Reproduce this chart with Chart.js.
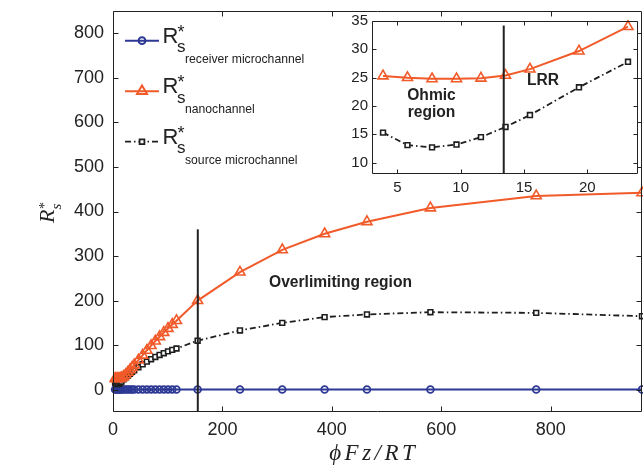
<!DOCTYPE html>
<html><head><meta charset="utf-8">
<script src="https://cdn.jsdelivr.net/npm/chart.js@4.4.1/dist/chart.umd.min.js"></script>
<style>
html,body{margin:0;padding:0;background:#fff;}
#wrap{position:relative;width:643px;height:465px;overflow:hidden;}
#main{position:absolute;left:0;top:0;}
#inset{position:absolute;left:320px;top:0;}
</style></head><body>
<div id="wrap"><canvas id="main" width="643" height="465"></canvas><canvas id="inset" width="323" height="210"></canvas></div>
<script>
// ---- data ----
const xValues = [3.87, 5.80, 7.74, 9.67, 11.60, 13.54, 15.47, 19.34, 23.21, 27.08, 30.94, 34.81, 38.68, 46.42, 54.15, 61.89, 69.62, 77.36, 85.10, 92.83, 100.57, 108.30, 116.04, 154.7, 232.1, 309.4, 386.8, 464.2, 580.2, 773.6, 967.0];
const receiver = [0.6, 0.6, 0.6, 0.6, 0.6, 0.6, 0.6, 0.6, 0.6, 0.6, 0.6, 0.6, 0.6, 0.6, 0.6, 0.6, 0.6, 0.6, 0.6, 0.6, 0.6, 0.6, 0.6, 0.6, 0.6, 0.6, 0.6, 0.6, 0.6, 0.6, 0.6];
const nanochannel = [25.3, 25.0, 24.8, 24.8, 24.9, 25.4, 26.5, 29.7, 34.0, 39.0, 44.5, 50.0, 55.5, 66.5, 77.5, 88.5, 99.0, 109.0, 119.0, 128.5, 137.5, 146.5, 155.0, 200.0, 264.0, 314.0, 350.0, 377.0, 408.0, 435.0, 442.0];
const source = [15.3, 13.1, 12.7, 13.2, 14.5, 16.3, 18.4, 23.3, 27.8, 32.0, 36.0, 40.0, 43.5, 50.5, 57.0, 63.0, 68.5, 73.5, 78.0, 82.0, 86.0, 89.5, 92.5, 110.0, 133.0, 150.0, 163.0, 169.0, 174.0, 172.5, 165.0];
const insetCount = 9; // points shown in the inset (x up to ~23)
const seriesLabels = ['receiver microchannel', 'nanochannel', 'source microchannel'];
const mainXTicks = [0, 200, 400, 600, 800];
const mainYTicks = [0, 100, 200, 300, 400, 500, 600, 700, 800];
const insetXTicks = [5, 10, 15, 20];
const insetYTicks = [10, 15, 20, 25, 30, 35];
const mainDividerX = [155, 155];
const mainDividerY = [-50, 360];
const insetDividerX = [13.4, 13.4];
const insetDividerY = [8, 34.2];

// ---- styles ----
const FONT = "'Liberation Sans', Arial, Helvetica, sans-serif";
const SERIF = "'Liberation Serif', 'DejaVu Serif', serif";
const INK = '#222222';
const BLUE = '#2D3994', RED = '#F15A29', BLACK = '#1E1E1E';
const DASHDOT = [6, 3, 1.5, 3];

const pts = (xs, ys) => ys.map((v, i) => ({x: xs[i], y: v}));

function axisFrame(len) {
  return {id: 'axisFrame', afterDatasetsDraw(chart) {
    const {ctx, chartArea: a, scales} = chart; const x = scales.x, y = scales.y;
    ctx.save(); ctx.strokeStyle = INK; ctx.lineWidth = 1; ctx.setLineDash([]);
    const L = Math.round(a.left) + 0.5, R = Math.round(a.right) - 0.5, T = Math.round(a.top) + 0.5, B = Math.round(a.bottom) - 0.5;
    ctx.beginPath(); ctx.rect(L, T, R - L, B - T);
    x.ticks.forEach(t => { const p = Math.round(x.getPixelForValue(t.value)) + 0.5; ctx.moveTo(p, B); ctx.lineTo(p, B - len); ctx.moveTo(p, T); ctx.lineTo(p, T + len); });
    y.ticks.forEach(t => { const p = Math.round(y.getPixelForValue(t.value)) + 0.5; ctx.moveTo(L, p); ctx.lineTo(L + len, p); ctx.moveTo(R, p); ctx.lineTo(R - len, p); });
    ctx.stroke(); ctx.restore();
  }};
}

function seriesStyles() {
  return [
    {borderColor: BLUE, borderWidth: 2, pointStyle: 'circle', pointRadius: 3.4, pointBorderWidth: 1.8, pointBackgroundColor: 'rgba(255,255,255,0)', pointBorderColor: BLUE, borderDash: []},
    {borderColor: RED, borderWidth: 2, pointStyle: 'triangle', pointRadius: 5.8, pointBorderWidth: 1.6, pointBackgroundColor: 'rgba(255,255,255,0)', pointBorderColor: RED, borderDash: []},
    {borderColor: BLACK, borderWidth: 1.8, pointStyle: 'rect', pointRadius: 3.4, pointBorderWidth: 1.6, pointBackgroundColor: '#ffffff', pointBorderColor: BLACK, borderDash: DASHDOT}
  ];
}
const styles = seriesStyles();

const mainDecor = {id: 'mainDecor', afterDraw(chart) {
  const ctx = chart.ctx;
  ctx.save();
  // legend
  const rows = [40.7, 91.2, 141.7];
  rows.forEach((ly, i) => {
    const s = styles[i];
    ctx.strokeStyle = s.borderColor; ctx.lineWidth = s.borderWidth; ctx.setLineDash(s.borderDash);
    ctx.beginPath(); ctx.moveTo(125, ly); ctx.lineTo(159, ly); ctx.stroke();
    ctx.setLineDash([]);
    ctx.fillStyle = s.pointBackgroundColor; ctx.strokeStyle = s.pointBorderColor;
    Chart.helpers.drawPoint(ctx, {pointStyle: s.pointStyle, radius: s.pointRadius, borderWidth: s.pointBorderWidth, rotation: 0}, 142, ly);
    ctx.fillStyle = INK; ctx.textAlign = 'left'; ctx.textBaseline = 'alphabetic';
    ctx.font = '22px ' + FONT; ctx.fillText('R', 162.5, ly + 2);
    ctx.font = '18px ' + FONT; ctx.fillText('*', 177.5, ly - 3);
    ctx.font = '17px ' + FONT; ctx.fillText('s', 177, ly + 11.5);
    ctx.font = '12.2px ' + FONT; ctx.fillText(seriesLabels[i], 185, ly + 22);
  });
  // region label
  ctx.fillStyle = INK; ctx.font = 'bold 15.6px ' + FONT; ctx.textBaseline = 'middle'; ctx.textAlign = 'left';
  ctx.fillText('Overlimiting region', 269, 283);
  // y title
  ctx.save(); ctx.translate(54, 212); ctx.rotate(-Math.PI / 2);
  ctx.textBaseline = 'alphabetic'; ctx.textAlign = 'left';
  ctx.font = 'italic 22px ' + SERIF; ctx.fillText('R', -11, 0);
  ctx.font = '14px ' + SERIF; ctx.fillText('*', 3, -5);
  ctx.font = 'italic 15px ' + SERIF; ctx.fillText('s', 2.5, 7);
  ctx.restore();
  // x title
  ctx.font = 'italic 23px ' + SERIF; ctx.textBaseline = 'alphabetic'; ctx.textAlign = 'left';
  const title = 'ϕFz/RT'; const gap = 3.5;
  let w = 0; for (const c of title) w += ctx.measureText(c).width + gap; w -= gap;
  let px = 372 - w / 2;
  for (const c of title) { ctx.fillText(c, px, 460); px += ctx.measureText(c).width + gap; }
  ctx.restore();
}};

const tickFont = (size) => ({family: FONT, size: size});
const noPad = s => { s.paddingTop = 0; s.paddingBottom = 0; s.paddingLeft = 0; s.paddingRight = 0; };

new Chart(document.getElementById('main'), {
  type: 'line',
  data: {datasets: [
    Object.assign({label: seriesLabels[0], data: pts(xValues, receiver), clip: false, order: 3, tension: 0, fill: false}, styles[0]),
    Object.assign({label: seriesLabels[1], data: pts(xValues, nanochannel), clip: false, order: 1, tension: 0, fill: false}, styles[1]),
    Object.assign({label: seriesLabels[2], data: pts(xValues, source), clip: false, order: 2, tension: 0, fill: false}, styles[2]),
    {label: 'divider', data: pts(mainDividerX, mainDividerY), borderColor: INK, borderWidth: 2, pointRadius: 0, order: 0, fill: false}
  ]},
  options: {
    responsive: false, animation: false, devicePixelRatio: 1,
    layout: {autoPadding: false, padding: {left: 0, top: 11, right: 1, bottom: 0}},
    plugins: {legend: {display: false}, tooltip: {enabled: false}},
    scales: {
      x: {type: 'linear', min: 0, max: 967,
        afterBuildTicks: s => { s.ticks = mainXTicks.map(v => ({value: v})); },
        afterFit: s => { s.height = 53; noPad(s); },
        grid: {display: false, drawTicks: false}, border: {display: false},
        ticks: {font: tickFont(18), color: INK, padding: 7, maxRotation: 0}},
      y: {type: 'linear', min: -50, max: 850,
        afterBuildTicks: s => { s.ticks = mainYTicks.map(v => ({value: v})); },
        afterFit: s => { s.width = 113; noPad(s); },
        grid: {display: false, drawTicks: false}, border: {display: false},
        ticks: {font: tickFont(18), color: INK, padding: 9}}
    }
  },
  plugins: [axisFrame(5), mainDecor]
});

const insetBg = {id: 'insetBg', beforeDraw(chart) {
  const {ctx, chartArea: a} = chart; ctx.save(); ctx.fillStyle = '#ffffff'; ctx.fillRect(a.left, a.top, a.right - a.left, a.bottom - a.top); ctx.restore();
}};
const insetDecor = {id: 'insetDecor', afterDraw(chart) {
  const ctx = chart.ctx; ctx.save();
  ctx.fillStyle = INK; ctx.font = 'bold 15.6px ' + FONT; ctx.textAlign = 'center'; ctx.textBaseline = 'middle';
  ctx.fillText('Ohmic', 111.5, 95.5);
  ctx.fillText('region', 111.5, 112.5);
  ctx.fillText('LRR', 223, 80.5);
  ctx.restore();
}};

new Chart(document.getElementById('inset'), {
  type: 'line',
  data: {datasets: [
    Object.assign({label: seriesLabels[1], data: pts(xValues, nanochannel.slice(0, insetCount)), clip: false, order: 1, tension: 0, fill: false}, styles[1]),
    Object.assign({label: seriesLabels[2], data: pts(xValues, source.slice(0, insetCount)), clip: false, order: 2, tension: 0, fill: false}, styles[2]),
    {label: 'divider', data: pts(insetDividerX, insetDividerY), borderColor: INK, borderWidth: 2, pointRadius: 0, order: 0, fill: false}
  ]},
  options: {
    responsive: false, animation: false, devicePixelRatio: 1,
    layout: {autoPadding: false, padding: {left: 0, top: 21, right: 5, bottom: 0}},
    plugins: {legend: {display: false}, tooltip: {enabled: false}},
    scales: {
      x: {type: 'linear', min: 3, max: 24,
        afterBuildTicks: s => { s.ticks = insetXTicks.map(v => ({value: v})); },
        afterFit: s => { s.height = 36; noPad(s); },
        grid: {display: false, drawTicks: false}, border: {display: false},
        ticks: {font: tickFont(15), color: INK, padding: 5, maxRotation: 0}},
      y: {type: 'linear', min: 8, max: 35,
        afterBuildTicks: s => { s.ticks = insetYTicks.map(v => ({value: v})); },
        afterFit: s => { s.width = 52; noPad(s); },
        grid: {display: false, drawTicks: false}, border: {display: false},
        ticks: {font: tickFont(15), color: INK, padding: 4}}
    }
  },
  plugins: [insetBg, axisFrame(4), insetDecor]
});
</script>
</body></html>
